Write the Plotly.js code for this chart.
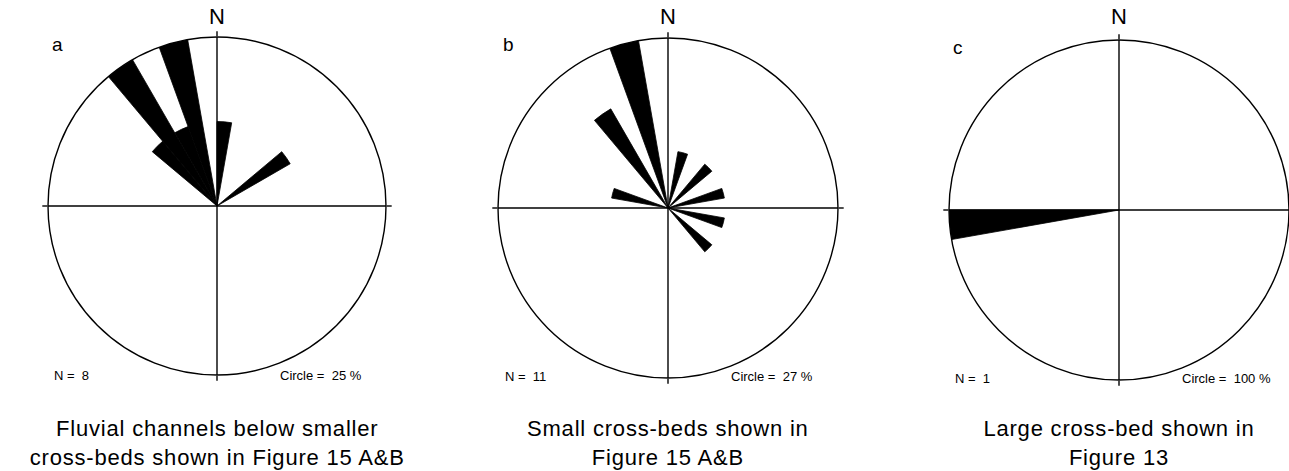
<!DOCTYPE html>
<html><head><meta charset="utf-8">
<script src="https://cdn.plot.ly/plotly-3.0.1.min.js"></script>
<style>html,body{margin:0;padding:0;background:#fff}</style>
</head><body><div id="chart" style="width:1289px;height:471px"></div>
<script>
// Rose diagram data: bin centres (degrees, 10-degree bins) and percentages
const binCentersA = [5, 55, 315, 325, 335, 345];
const valuesA = [12.5, 12.5, 12.5, 25, 12.5, 25];
const binCentersB = [15, 45, 75, 105, 135, 285, 325, 345];
const valuesB = [9.09, 9.09, 9.09, 9.09, 9.09, 9.09, 18.18, 27.27];
const binCentersC = [265];
const valuesC = [100];
const binWidth = 10;

const panelLetters = ['a', 'b', 'c'];
const countLabels = ['N =\u00a0 8', 'N =\u00a0 11', 'N =\u00a0 1'];
const circleLabels = ['Circle =\u00a0 25 %', 'Circle =\u00a0 27 %', 'Circle =\u00a0 100 %'];
const circleMax = [25, 27, 100];
const captions = [
  'Fluvial channels below smaller<br>cross-beds shown in Figure 15 A&B',
  'Small cross-beds shown in<br>Figure 15 A&B',
  'Large cross-bed shown in<br>Figure 13'
];

const W = 1289, H = 471;
const px = x => x / W;
const py = y => 1 - y / H;

// panel geometry (pixel centre and radius)
const panels = [
  {cx: 217, cy: 206, r: 169},
  {cx: 668, cy: 208, r: 170},
  {cx: 1119, cy: 210, r: 170}
];

function polarLayout(p, rmax) {
  return {
    domain: {x: [px(p.cx - p.r), Math.min(1, px(p.cx + p.r))], y: [py(p.cy + p.r), py(p.cy - p.r)]},
    bgcolor: 'rgba(0,0,0,0)',
    radialaxis: {range: [0, rmax], visible: false},
    angularaxis: {
      rotation: 90, direction: 'clockwise',
      tickmode: 'array', tickvals: [0, 90, 180, 270],
      showticklabels: false, ticks: 'outside', ticklen: 5, tickcolor: '#000', tickwidth: 1.4,
      showgrid: true, gridcolor: '#000', gridwidth: 1.4,
      showline: true, linecolor: '#000', linewidth: 1.4,
      layer: 'above traces'
    }
  };
}

function trace(theta, r, sub) {
  return {
    type: 'barpolar', theta: theta, r: r,
    width: theta.map(() => binWidth),
    marker: {color: '#000', line: {width: 0.8, color: '#000'}},
    subplot: sub, hoverinfo: 'theta+r', showlegend: false
  };
}

const data = [
  trace(binCentersA, valuesA, 'polar'),
  trace(binCentersB, valuesB, 'polar2'),
  trace(binCentersC, valuesC, 'polar3')
];

const font = 'Liberation Sans, Arial, Helvetica, sans-serif';
const annotations = [];
const captionIdx = [];
const letterPos = [[57, 45], [508, 45], [958, 48]];
const countPos = [[52, 375], [503, 376], [953, 378]];
const circlePos = [[364, 375], [815, 376], [1273, 378]];
panels.forEach((p, i) => {
  annotations.push({text: 'N', x: px(p.cx), y: py(17), xref: 'paper', yref: 'paper', showarrow: false,
    xanchor: 'center', yanchor: 'middle', font: {family: font, size: 22, color: '#000'}});
  annotations.push({text: panelLetters[i], x: px(letterPos[i][0]), y: py(letterPos[i][1]), xref: 'paper', yref: 'paper', showarrow: false,
    xanchor: 'center', yanchor: 'middle', font: {family: font, size: 19, color: '#000'}});
  annotations.push({text: countLabels[i], x: px(countPos[i][0]), y: py(countPos[i][1]), xref: 'paper', yref: 'paper', showarrow: false,
    xanchor: 'left', yanchor: 'middle', font: {family: font, size: 13, color: '#000'}});
  annotations.push({text: circleLabels[i], x: px(circlePos[i][0]), y: py(circlePos[i][1]), xref: 'paper', yref: 'paper', showarrow: false,
    xanchor: 'right', yanchor: 'middle', font: {family: font, size: 13, color: '#000'}});
  captionIdx.push(annotations.length);
  annotations.push({text: captions[i], x: px(p.cx), y: py(443), xref: 'paper', yref: 'paper', showarrow: false,
    xanchor: 'center', yanchor: 'middle', align: 'center',
    font: {family: font, size: 22, color: '#000'}});
});

const layout = {
  width: W, height: H,
  margin: {l: 0, r: 0, t: 0, b: 0},
  paper_bgcolor: '#fff',
  showlegend: false,
  polar: polarLayout(panels[0], circleMax[0]),
  polar2: polarLayout(panels[1], circleMax[1]),
  polar3: polarLayout(panels[2], circleMax[2]),
  annotations: annotations
};

Plotly.newPlot('chart', data, layout, {displayModeBar: false, staticPlot: true}).then(() => {
  document.querySelectorAll('.annotation').forEach(g => {
    const idx = +g.getAttribute('data-index');
    if (captionIdx.includes(idx)) {
      const t = g.querySelector('text');
      if (t) t.style.letterSpacing = '0.8px';
    }
  });
});
</script>
</body></html>
